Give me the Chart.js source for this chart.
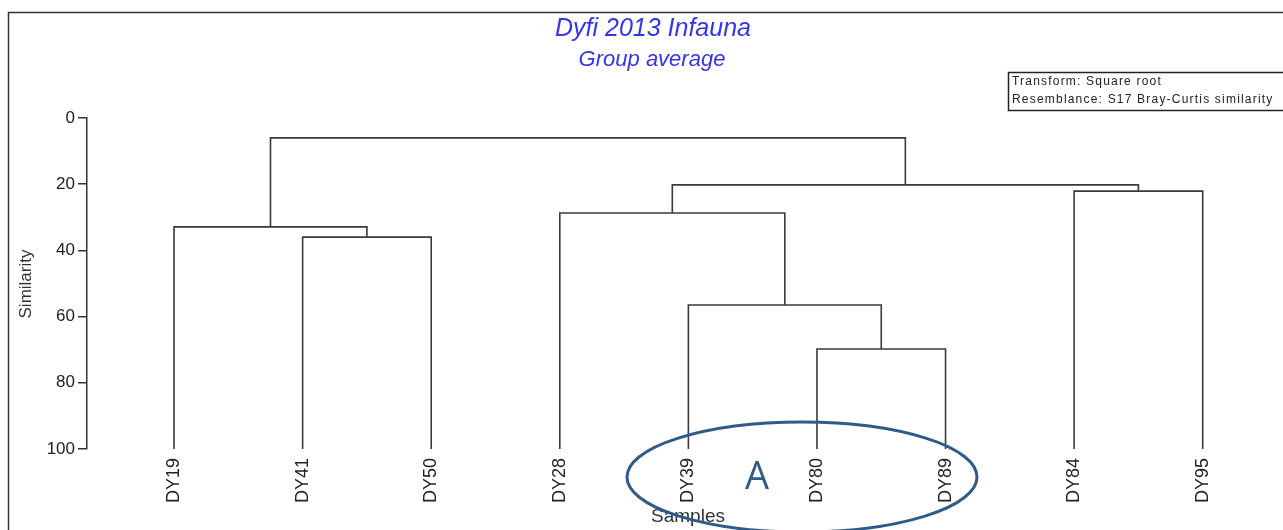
<!DOCTYPE html>
<html>
<head>
<meta charset="utf-8">
<script src="https://cdn.jsdelivr.net/npm/chart.js@4/dist/chart.umd.min.js"></script>
<style>
html,body{margin:0;padding:0;background:#fff;overflow:hidden;}
canvas{display:block;}
</style>
</head>
<body>
<canvas id="c" width="1283" height="530"></canvas>
<script>
// ---- data ----
const leaves = ['DY19','DY41','DY50','DY28','DY39','DY80','DY89','DY84','DY95'];
// merges in order; 'mN' refers to merge N
const mergeA = ['DY80','DY39','DY41','DY19','DY28','DY84','m4','m3'];
const mergeB = ['DY89','m0','DY50','m2','m1','DY95','m5','m6'];
const mergeSim = [69.8, 56.5, 36.0, 32.9, 28.7, 22.1, 20.2, 6.0];
const yTicks = [0, 20, 40, 60, 80, 100];
const titleText = 'Dyfi 2013 Infauna';
const subtitleText = 'Group average';
const infoLines = ['Transform: Square root', 'Resemblance: S17 Bray-Curtis similarity'];
const groupLabel = 'A';
const xTitle = 'Samples';
const yTitle = 'Similarity';

// ---- build dendrogram segments ----
const leafSim = 100;
const nodes = {};
leaves.forEach((l, i) => { nodes[l] = {x: i + 1, y: leafSim}; });
const datasets = [];
mergeA.forEach((a, i) => {
  const b = mergeB[i];
  const na = nodes[a], nb = nodes[b], h = mergeSim[i];
  nodes['m' + i] = {x: (na.x + nb.x) / 2, y: h};
  datasets.push({
    data: [{x: na.x, y: na.y}, {x: na.x, y: h}, {x: nb.x, y: h}, {x: nb.x, y: nb.y}],
    showLine: true,
    borderColor: '#3a3a3a',
    borderWidth: 1.6,
    pointRadius: 0,
    pointHoverRadius: 0,
    tension: 0,
    fill: false
  });
});

const FONT = '"Liberation Sans", Arial, sans-serif';

const decor = {
  id: 'decor',
  beforeDraw(chart) {
    const ctx = chart.ctx;
    ctx.save();
    ctx.fillStyle = '#fff';
    ctx.fillRect(0, 0, chart.width, chart.height);
    ctx.strokeStyle = '#333';
    ctx.lineWidth = 1.5;
    ctx.strokeRect(8.5, 12.5, 1300, 560);
    // titles
    ctx.fillStyle = '#3434f0';
    ctx.textAlign = 'center';
    ctx.textBaseline = 'middle';
    ctx.font = 'italic 25px ' + FONT;
    ctx.fillText(titleText, 653, 29);
    ctx.font = 'italic 22px ' + FONT;
    ctx.fillText(subtitleText, 652, 60);
    // info box
    ctx.strokeStyle = '#222';
    ctx.lineWidth = 1.5;
    ctx.strokeRect(1008.5, 72.5, 300, 38);
    ctx.fillStyle = '#222';
    ctx.textAlign = 'left';
    ctx.font = '12px ' + FONT;
    try { ctx.letterSpacing = '1.2px'; } catch (e) {}
    ctx.fillText(infoLines[0], 1012, 82);
    ctx.fillText(infoLines[1], 1012, 100);
    try { ctx.letterSpacing = '0px'; } catch (e) {}
    // axis titles
    ctx.fillStyle = '#333';
    ctx.textAlign = 'center';
    ctx.font = '19px ' + FONT;
    ctx.fillText(xTitle, 688, 517);
    ctx.translate(26, 284);
    ctx.rotate(-Math.PI / 2);
    ctx.font = '17px ' + FONT;
    ctx.fillText(yTitle, 0, 0);
    ctx.restore();
  },
  afterDraw(chart) {
    const ctx = chart.ctx;
    ctx.save();
    ctx.strokeStyle = '#2f5b88';
    ctx.lineWidth = 3;
    ctx.beginPath();
    ctx.ellipse(802, 477, 175, 55, 0, 0, Math.PI * 2);
    ctx.stroke();
    ctx.fillStyle = '#2f5b88';
    ctx.font = '38px "Open Sans", "Noto Sans", sans-serif';
    ctx.textAlign = 'center';
    ctx.textBaseline = 'middle';
    ctx.fillText(groupLabel, 757, 478);
    ctx.restore();
  }
};

new Chart(document.getElementById('c'), {
  type: 'scatter',
  data: {datasets},
  options: {
    responsive: false,
    animation: false,
    events: [],
    layout: {padding: {top: 118, right: 16, left: 0, bottom: 0}},
    plugins: {legend: {display: false}, tooltip: {enabled: false}, title: {display: false}},
    scales: {
      x: {
        type: 'linear',
        min: 0.323,
        max: 9.5,
        afterBuildTicks: (s) => { s.ticks = leaves.map((_, i) => ({value: i + 1})); },
        afterFit: (s) => { s.height = 81; },
        grid: {display: false, drawTicks: false, tickLength: 0},
        border: {display: false},
        ticks: {
          autoSkip: false,
          maxRotation: 90,
          minRotation: 90,
          padding: 9,
          color: '#222',
          font: {size: 18, family: FONT},
          callback: (v) => leaves[Math.round(v) - 1]
        }
      },
      y: {
        type: 'linear',
        reverse: true,
        min: 0,
        max: 100,
        afterBuildTicks: (s) => { s.ticks = yTicks.map(v => ({value: v})); },
        afterFit: (s) => { s.width = 87; },
        grid: {drawOnChartArea: false, drawTicks: true, tickLength: 9, color: '#333', lineWidth: 1.5},
        border: {display: true, color: '#333', width: 1.5},
        ticks: {
          color: '#222',
          padding: 3,
          font: {size: 17, family: FONT}
        }
      }
    }
  },
  plugins: [decor]
});
</script>
</body>
</html>
